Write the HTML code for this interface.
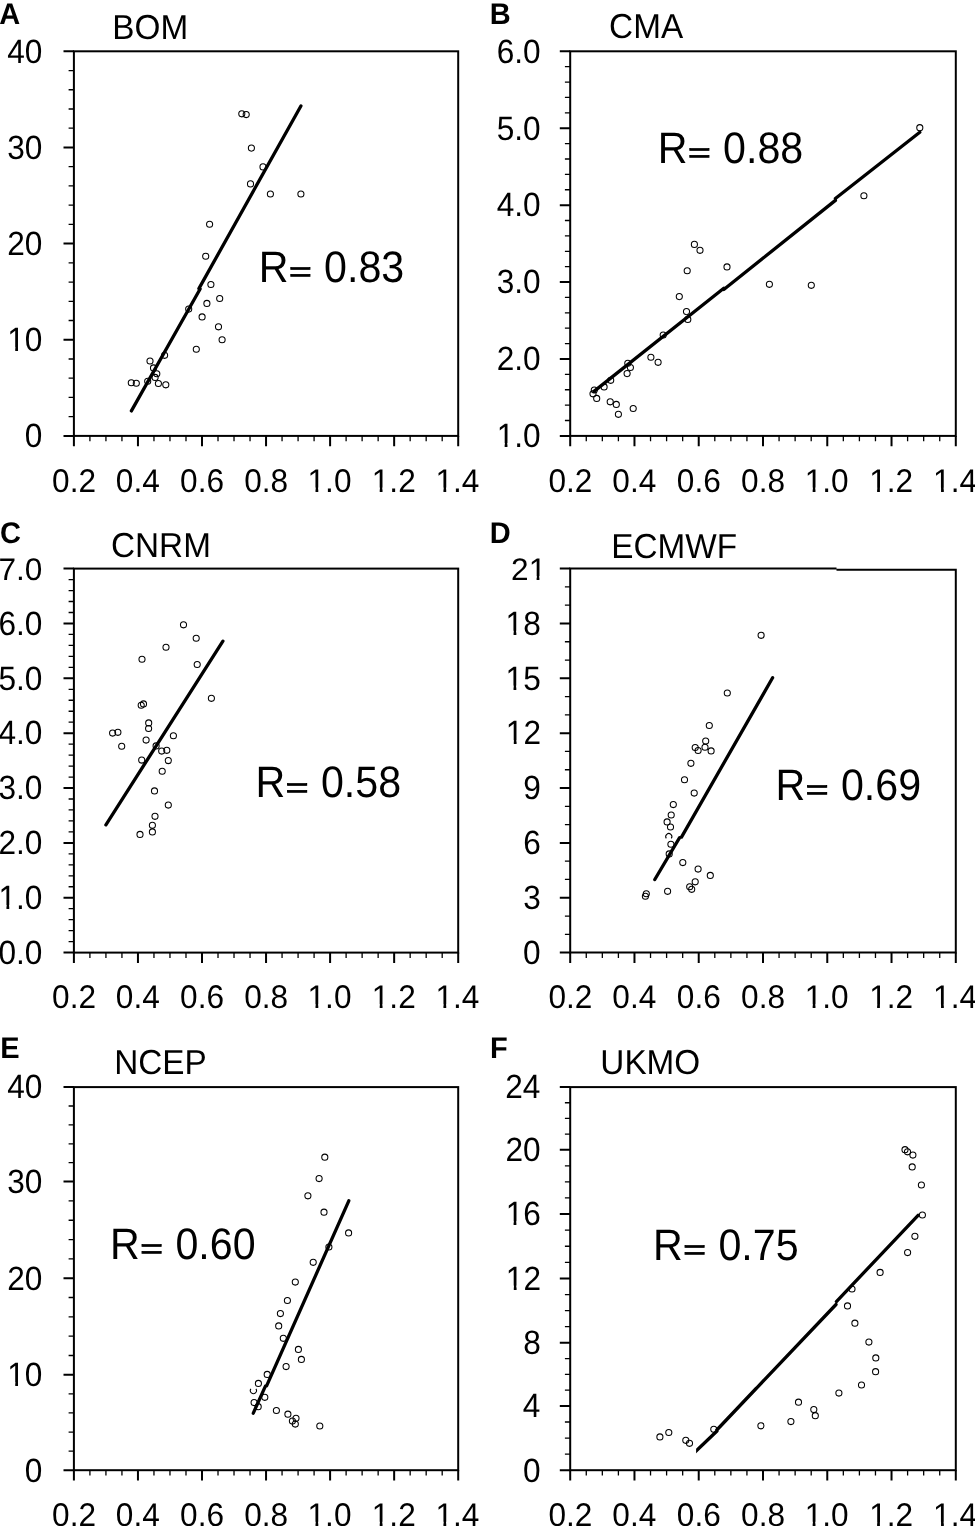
<!DOCTYPE html>
<html><head><meta charset="utf-8"><title>Scatter plots</title><style>
html,body{margin:0;padding:0;background:#fff;}
body{width:975px;height:1526px;overflow:hidden;}
svg{display:block;}
text{font-family:"Liberation Sans", Arial, Helvetica, sans-serif;fill:#000;font-kerning:none;text-rendering:geometricPrecision;}
.t{font-size:31.6px;}
.r{font-size:41.2px;}
.ti{font-size:33.3px;}
.l{font-size:29.0px;font-weight:bold;}
.eq{stroke:#000;stroke-width:1.3px;}
</style></head><body>
<svg width="975" height="1526" viewBox="0 0 975 1526">
<rect width="975" height="1526" fill="#fff"/>
<path d="M73.9 435.9v10.4M137.95 435.9v10.4M202 435.9v10.4M266.05 435.9v10.4M330.1 435.9v10.4M394.15 435.9v10.4M458.2 435.9v10.4M73.9 435.9h-10.4M73.9 339.75h-10.4M73.9 243.6h-10.4M73.9 147.45h-10.4M73.9 51.3h-10.4" stroke="#000" stroke-width="2.0" fill="none"/>
<path d="M89.91 435.9v5.3M105.93 435.9v5.3M121.94 435.9v5.3M153.96 435.9v5.3M169.97 435.9v5.3M185.99 435.9v5.3M218.01 435.9v5.3M234.02 435.9v5.3M250.04 435.9v5.3M282.06 435.9v5.3M298.08 435.9v5.3M314.09 435.9v5.3M346.11 435.9v5.3M362.12 435.9v5.3M378.14 435.9v5.3M410.16 435.9v5.3M426.17 435.9v5.3M442.19 435.9v5.3M73.9 416.67h-5.3M73.9 397.44h-5.3M73.9 378.21h-5.3M73.9 358.98h-5.3M73.9 320.52h-5.3M73.9 301.29h-5.3M73.9 282.06h-5.3M73.9 262.83h-5.3M73.9 224.37h-5.3M73.9 205.14h-5.3M73.9 185.91h-5.3M73.9 166.68h-5.3M73.9 128.22h-5.3M73.9 108.99h-5.3M73.9 89.76h-5.3M73.9 70.53h-5.3" stroke="#000" stroke-width="1.3" fill="none"/>
<rect x="73.9" y="51.3" width="384.3" height="384.6" stroke="#000" stroke-width="2.0" fill="none"/>
<text transform="translate(52.11 491.6) scale(1 1.04)" class="t">0.2</text>
<text transform="translate(115.83 491.6) scale(1 1.04)" class="t">0.4</text>
<text transform="translate(180.11 491.6) scale(1 1.04)" class="t">0.6</text>
<text transform="translate(244.16 491.6) scale(1 1.04)" class="t">0.8</text>
<text transform="translate(307.55 491.6) scale(1 1.04)" class="t">1.0</text>
<text transform="translate(371.78 491.6) scale(1 1.04)" class="t">1.2</text>
<text transform="translate(435.5 491.6) scale(1 1.04)" class="t">1.4</text>
<text transform="translate(24.86 447.2) scale(1 1.065)" class="t">0</text>
<text transform="translate(7.29 351.05) scale(1 1.065)" class="t">10</text>
<text transform="translate(7.29 254.9) scale(1 1.065)" class="t">20</text>
<text transform="translate(7.29 158.75) scale(1 1.065)" class="t">30</text>
<text transform="translate(7.29 62.6) scale(1 1.065)" class="t">40</text>
<path d="M300.9 106.0L198.9 288.6M200.1 289.0L131.4 410.9" stroke="#000" stroke-width="3.3" stroke-linecap="round" stroke-linejoin="round" fill="none"/>
<g fill="none" stroke="#000" stroke-width="1.05"><circle cx="241.8" cy="113.8" r="3.05"/><circle cx="246.2" cy="114.6" r="3.05"/><circle cx="251.4" cy="148.1" r="3.05"/><circle cx="263.0" cy="166.9" r="3.05"/><circle cx="250.5" cy="183.9" r="3.05"/><circle cx="270.4" cy="194.0" r="3.05"/><circle cx="300.9" cy="194.0" r="3.05"/><circle cx="209.6" cy="224.2" r="3.05"/><circle cx="205.7" cy="256.2" r="3.05"/><circle cx="210.9" cy="284.5" r="3.05"/><circle cx="219.7" cy="298.5" r="3.05"/><circle cx="206.9" cy="303.4" r="3.05"/><circle cx="188.7" cy="309.1" r="3.05"/><circle cx="202.1" cy="316.9" r="3.05"/><circle cx="218.5" cy="326.8" r="3.05"/><circle cx="222.1" cy="339.7" r="3.05"/><circle cx="196.3" cy="349.2" r="3.05"/><circle cx="164.6" cy="355.3" r="3.05"/><circle cx="150.0" cy="361.0" r="3.05"/><circle cx="153.5" cy="367.9" r="3.05"/><circle cx="156.8" cy="373.7" r="3.05"/><circle cx="155.1" cy="377.4" r="3.05"/><circle cx="147.7" cy="381.2" r="3.05"/><circle cx="131.3" cy="382.7" r="3.05"/><circle cx="136.3" cy="383.2" r="3.05"/><circle cx="158.4" cy="383.5" r="3.05"/><circle cx="165.8" cy="384.8" r="3.05"/></g>
<text transform="translate(258.82 281.8) scale(1 1.07)" class="r">R</text>
<text transform="translate(288.95 280.92) scale(0.944 0.673)" class="r eq">=</text>
<text transform="translate(324.08 281.8) scale(1 1.07)" class="r">0.83</text>
<text transform="translate(112.37 38.6) scale(1 1.04)" class="ti">BOM</text>
<text transform="translate(-0.72 23.8) scale(1 1.03)" class="l">A</text>
<path d="M570.2 435.9v10.4M634.47 435.9v10.4M698.73 435.9v10.4M763 435.9v10.4M827.27 435.9v10.4M891.53 435.9v10.4M955.8 435.9v10.4M570.2 435.9h-10.4M570.2 358.98h-10.4M570.2 282.06h-10.4M570.2 205.14h-10.4M570.2 128.22h-10.4M570.2 51.3h-10.4" stroke="#000" stroke-width="2.0" fill="none"/>
<path d="M586.27 435.9v5.3M602.33 435.9v5.3M618.4 435.9v5.3M650.53 435.9v5.3M666.6 435.9v5.3M682.67 435.9v5.3M714.8 435.9v5.3M730.87 435.9v5.3M746.93 435.9v5.3M779.07 435.9v5.3M795.13 435.9v5.3M811.2 435.9v5.3M843.33 435.9v5.3M859.4 435.9v5.3M875.47 435.9v5.3M907.6 435.9v5.3M923.67 435.9v5.3M939.73 435.9v5.3M570.2 420.52h-5.3M570.2 405.13h-5.3M570.2 389.75h-5.3M570.2 374.36h-5.3M570.2 343.6h-5.3M570.2 328.21h-5.3M570.2 312.83h-5.3M570.2 297.44h-5.3M570.2 266.68h-5.3M570.2 251.29h-5.3M570.2 235.91h-5.3M570.2 220.52h-5.3M570.2 189.76h-5.3M570.2 174.37h-5.3M570.2 158.99h-5.3M570.2 143.6h-5.3M570.2 112.84h-5.3M570.2 97.45h-5.3M570.2 82.07h-5.3M570.2 66.68h-5.3" stroke="#000" stroke-width="1.3" fill="none"/>
<rect x="570.2" y="51.3" width="385.6" height="384.6" stroke="#000" stroke-width="2.0" fill="none"/>
<text transform="translate(548.41 491.6) scale(1 1.04)" class="t">0.2</text>
<text transform="translate(612.35 491.6) scale(1 1.04)" class="t">0.4</text>
<text transform="translate(676.85 491.6) scale(1 1.04)" class="t">0.6</text>
<text transform="translate(741.11 491.6) scale(1 1.04)" class="t">0.8</text>
<text transform="translate(804.72 491.6) scale(1 1.04)" class="t">1.0</text>
<text transform="translate(869.16 491.6) scale(1 1.04)" class="t">1.2</text>
<text transform="translate(933.1 491.6) scale(1 1.04)" class="t">1.4</text>
<text transform="translate(496.71 447.2) scale(1 1.065)" class="t">1.0</text>
<text transform="translate(496.71 370.28) scale(1 1.065)" class="t">2.0</text>
<text transform="translate(496.71 293.36) scale(1 1.065)" class="t">3.0</text>
<text transform="translate(496.71 216.44) scale(1 1.065)" class="t">4.0</text>
<text transform="translate(496.71 139.52) scale(1 1.065)" class="t">5.0</text>
<text transform="translate(496.71 62.6) scale(1 1.065)" class="t">6.0</text>
<path d="M594.0 391.4L723.8 288.3M723.8 289.5L835.4 200.4M835.4 198.5L919.8 132.2" stroke="#000" stroke-width="3.3" stroke-linecap="round" stroke-linejoin="round" fill="none"/>
<g fill="none" stroke="#000" stroke-width="1.05"><circle cx="919.8" cy="127.7" r="3.05"/><circle cx="863.9" cy="195.7" r="3.05"/><circle cx="694.4" cy="244.4" r="3.05"/><circle cx="700.0" cy="250.3" r="3.05"/><circle cx="727.0" cy="266.9" r="3.05"/><circle cx="687.2" cy="270.7" r="3.05"/><circle cx="769.4" cy="284.3" r="3.05"/><circle cx="811.3" cy="285.3" r="3.05"/><circle cx="679.3" cy="296.6" r="3.05"/><circle cx="686.5" cy="311.6" r="3.05"/><circle cx="687.8" cy="319.4" r="3.05"/><circle cx="663.2" cy="335.0" r="3.05"/><circle cx="650.9" cy="357.2" r="3.05"/><circle cx="658.1" cy="362.3" r="3.05"/><circle cx="627.8" cy="363.2" r="3.05"/><circle cx="630.4" cy="367.5" r="3.05"/><circle cx="627.1" cy="373.6" r="3.05"/><circle cx="610.7" cy="380.3" r="3.05"/><circle cx="604.1" cy="386.9" r="3.05"/><circle cx="594.3" cy="390.0" r="3.05"/><circle cx="593.0" cy="393.8" r="3.05"/><circle cx="596.7" cy="398.4" r="3.05"/><circle cx="610.2" cy="401.8" r="3.05"/><circle cx="616.3" cy="404.4" r="3.05"/><circle cx="633.2" cy="408.5" r="3.05"/><circle cx="618.4" cy="414.3" r="3.05"/></g>
<text transform="translate(657.82 163) scale(1 1.07)" class="r">R</text>
<text transform="translate(687.95 162.12) scale(0.944 0.673)" class="r eq">=</text>
<text transform="translate(723.08 163) scale(1 1.07)" class="r">0.88</text>
<text transform="translate(609.11 38.4) scale(1 1.04)" class="ti">CMA</text>
<text transform="translate(489.86 24) scale(1 1.03)" class="l">B</text>
<path d="M73.9 952.6v10.4M137.95 952.6v10.4M202 952.6v10.4M266.05 952.6v10.4M330.1 952.6v10.4M394.15 952.6v10.4M458.2 952.6v10.4M73.9 952.6h-10.4M73.9 897.74h-10.4M73.9 842.89h-10.4M73.9 788.03h-10.4M73.9 733.17h-10.4M73.9 678.31h-10.4M73.9 623.46h-10.4M73.9 568.6h-10.4" stroke="#000" stroke-width="2.0" fill="none"/>
<path d="M89.91 952.6v5.3M105.93 952.6v5.3M121.94 952.6v5.3M153.96 952.6v5.3M169.97 952.6v5.3M185.99 952.6v5.3M218.01 952.6v5.3M234.02 952.6v5.3M250.04 952.6v5.3M282.06 952.6v5.3M298.08 952.6v5.3M314.09 952.6v5.3M346.11 952.6v5.3M362.12 952.6v5.3M378.14 952.6v5.3M410.16 952.6v5.3M426.17 952.6v5.3M442.19 952.6v5.3M73.9 941.63h-5.3M73.9 930.66h-5.3M73.9 919.69h-5.3M73.9 908.71h-5.3M73.9 886.77h-5.3M73.9 875.8h-5.3M73.9 864.83h-5.3M73.9 853.86h-5.3M73.9 831.91h-5.3M73.9 820.94h-5.3M73.9 809.97h-5.3M73.9 799h-5.3M73.9 777.06h-5.3M73.9 766.09h-5.3M73.9 755.11h-5.3M73.9 744.14h-5.3M73.9 722.2h-5.3M73.9 711.23h-5.3M73.9 700.26h-5.3M73.9 689.29h-5.3M73.9 667.34h-5.3M73.9 656.37h-5.3M73.9 645.4h-5.3M73.9 634.43h-5.3M73.9 612.49h-5.3M73.9 601.51h-5.3M73.9 590.54h-5.3M73.9 579.57h-5.3" stroke="#000" stroke-width="1.3" fill="none"/>
<rect x="73.9" y="568.6" width="384.3" height="384" stroke="#000" stroke-width="2.0" fill="none"/>
<text transform="translate(52.11 1008.3) scale(1 1.04)" class="t">0.2</text>
<text transform="translate(115.83 1008.3) scale(1 1.04)" class="t">0.4</text>
<text transform="translate(180.11 1008.3) scale(1 1.04)" class="t">0.6</text>
<text transform="translate(244.16 1008.3) scale(1 1.04)" class="t">0.8</text>
<text transform="translate(307.55 1008.3) scale(1 1.04)" class="t">1.0</text>
<text transform="translate(371.78 1008.3) scale(1 1.04)" class="t">1.2</text>
<text transform="translate(435.5 1008.3) scale(1 1.04)" class="t">1.4</text>
<text transform="translate(-1.49 963.9) scale(1 1.065)" class="t">0.0</text>
<text transform="translate(-1.49 909.04) scale(1 1.065)" class="t">1.0</text>
<text transform="translate(-1.49 854.19) scale(1 1.065)" class="t">2.0</text>
<text transform="translate(-1.49 799.33) scale(1 1.065)" class="t">3.0</text>
<text transform="translate(-1.49 744.47) scale(1 1.065)" class="t">4.0</text>
<text transform="translate(-1.49 689.61) scale(1 1.065)" class="t">5.0</text>
<text transform="translate(-1.49 634.76) scale(1 1.065)" class="t">6.0</text>
<text transform="translate(-1.49 579.9) scale(1 0.985)" class="t">7.0</text>
<path d="M105.9 824.8L222.9 641.2" stroke="#000" stroke-width="3.3" stroke-linecap="round" stroke-linejoin="round" fill="none"/>
<g fill="none" stroke="#000" stroke-width="1.05"><circle cx="183.5" cy="624.8" r="3.05"/><circle cx="196.2" cy="638.2" r="3.05"/><circle cx="166.0" cy="647.2" r="3.05"/><circle cx="142.0" cy="659.2" r="3.05"/><circle cx="197.2" cy="664.5" r="3.05"/><circle cx="211.4" cy="698.3" r="3.05"/><circle cx="141.2" cy="705.2" r="3.05"/><circle cx="143.5" cy="703.9" r="3.05"/><circle cx="148.7" cy="722.9" r="3.05"/><circle cx="148.6" cy="728.5" r="3.05"/><circle cx="112.6" cy="733.1" r="3.05"/><circle cx="117.9" cy="732.3" r="3.05"/><circle cx="173.4" cy="735.7" r="3.05"/><circle cx="146.1" cy="740.1" r="3.05"/><circle cx="121.7" cy="746.2" r="3.05"/><circle cx="156.1" cy="745.9" r="3.05"/><circle cx="161.7" cy="751.1" r="3.05"/><circle cx="166.8" cy="750.3" r="3.05"/><circle cx="141.7" cy="760.1" r="3.05"/><circle cx="168.3" cy="760.6" r="3.05"/><circle cx="162.2" cy="771.2" r="3.05"/><circle cx="154.5" cy="790.9" r="3.05"/><circle cx="168.3" cy="805.1" r="3.05"/><circle cx="155.0" cy="816.3" r="3.05"/><circle cx="152.4" cy="825.3" r="3.05"/><circle cx="152.4" cy="831.9" r="3.05"/><circle cx="140.0" cy="834.4" r="3.05"/></g>
<text transform="translate(255.62 797.4) scale(1 1.07)" class="r">R</text>
<text transform="translate(285.75 796.52) scale(0.944 0.673)" class="r eq">=</text>
<text transform="translate(320.88 797.4) scale(1 1.07)" class="r">0.58</text>
<text transform="translate(111.01 557.3) scale(1 1.04)" class="ti">CNRM</text>
<text transform="translate(0.01 543) scale(1 1.03)" class="l">C</text>
<path d="M570.2 952.6v10.4M634.47 952.6v10.4M698.73 952.6v10.4M763 952.6v10.4M827.27 952.6v10.4M891.53 952.6v10.4M955.8 952.6v10.4M570.2 952.6h-10.4M570.2 897.74h-10.4M570.2 842.89h-10.4M570.2 788.03h-10.4M570.2 733.17h-10.4M570.2 678.31h-10.4M570.2 623.46h-10.4M570.2 568.6h-10.4" stroke="#000" stroke-width="2.0" fill="none"/>
<path d="M586.27 952.6v5.3M602.33 952.6v5.3M618.4 952.6v5.3M650.53 952.6v5.3M666.6 952.6v5.3M682.67 952.6v5.3M714.8 952.6v5.3M730.87 952.6v5.3M746.93 952.6v5.3M779.07 952.6v5.3M795.13 952.6v5.3M811.2 952.6v5.3M843.33 952.6v5.3M859.4 952.6v5.3M875.47 952.6v5.3M907.6 952.6v5.3M923.67 952.6v5.3M939.73 952.6v5.3M570.2 934.31h-5.3M570.2 916.03h-5.3M570.2 879.46h-5.3M570.2 861.17h-5.3M570.2 824.6h-5.3M570.2 806.31h-5.3M570.2 769.74h-5.3M570.2 751.46h-5.3M570.2 714.89h-5.3M570.2 696.6h-5.3M570.2 660.03h-5.3M570.2 641.74h-5.3M570.2 605.17h-5.3M570.2 586.89h-5.3" stroke="#000" stroke-width="1.3" fill="none"/>
<path d="M836.5 568.6H570.2V952.6H955.8V569.7H836.5" stroke="#000" stroke-width="2.0" fill="none"/>
<text transform="translate(548.41 1008.3) scale(1 1.04)" class="t">0.2</text>
<text transform="translate(612.35 1008.3) scale(1 1.04)" class="t">0.4</text>
<text transform="translate(676.85 1008.3) scale(1 1.04)" class="t">0.6</text>
<text transform="translate(741.11 1008.3) scale(1 1.04)" class="t">0.8</text>
<text transform="translate(804.72 1008.3) scale(1 1.04)" class="t">1.0</text>
<text transform="translate(869.16 1008.3) scale(1 1.04)" class="t">1.2</text>
<text transform="translate(933.1 1008.3) scale(1 1.04)" class="t">1.4</text>
<text transform="translate(523.06 963.9) scale(1 1.065)" class="t">0</text>
<text transform="translate(523.21 909.04) scale(1 1.065)" class="t">3</text>
<text transform="translate(523.21 854.19) scale(1 1.065)" class="t">6</text>
<text transform="translate(523.32 799.33) scale(1 1.065)" class="t">9</text>
<text transform="translate(505.84 744.47) scale(1 1.065)" class="t">12</text>
<text transform="translate(505.58 689.61) scale(1 1.065)" class="t">15</text>
<text transform="translate(505.62 634.76) scale(1 1.065)" class="t">18</text>
<text transform="translate(511.09 579.9) scale(1 0.985)" class="t">21</text>
<path d="M654.8 879.5L679.6 837.7M681.5 837.1L772.6 677.8" stroke="#000" stroke-width="3.3" stroke-linecap="round" stroke-linejoin="round" fill="none"/>
<g fill="none" stroke="#000" stroke-width="1.05"><circle cx="761.1" cy="635.3" r="3.05"/><circle cx="727.3" cy="693.0" r="3.05"/><circle cx="709.3" cy="725.5" r="3.05"/><circle cx="705.7" cy="741.1" r="3.05"/><circle cx="695.2" cy="747.5" r="3.05"/><circle cx="698.1" cy="750.5" r="3.05"/><circle cx="705.0" cy="747.2" r="3.05"/><circle cx="711.1" cy="750.9" r="3.05"/><circle cx="690.9" cy="763.3" r="3.05"/><circle cx="684.5" cy="779.7" r="3.05"/><circle cx="694.2" cy="793.1" r="3.05"/><circle cx="673.3" cy="804.6" r="3.05"/><circle cx="671.2" cy="815.0" r="3.05"/><circle cx="667.1" cy="821.9" r="3.05"/><circle cx="670.5" cy="827.0" r="3.05"/><circle cx="670.9" cy="844.2" r="3.05"/><circle cx="669.2" cy="853.9" r="3.05"/><circle cx="682.8" cy="862.6" r="3.05"/><circle cx="698.1" cy="869.1" r="3.05"/><circle cx="710.3" cy="875.4" r="3.05"/><circle cx="695.2" cy="881.8" r="3.05"/><circle cx="689.7" cy="886.7" r="3.05"/><circle cx="691.7" cy="889.3" r="3.05"/><circle cx="667.6" cy="891.3" r="3.05"/><circle cx="646.3" cy="893.7" r="3.05"/><circle cx="645.4" cy="896.2" r="3.05"/><path d="M666.3 838.35A3.05 3.05 0 1 1 671.3 838.35"/></g>
<text transform="translate(775.62 800.2) scale(1 1.07)" class="r">R</text>
<text transform="translate(805.75 799.32) scale(0.944 0.673)" class="r eq">=</text>
<text transform="translate(840.88 800.2) scale(1 1.07)" class="r">0.69</text>
<text transform="translate(611.27 557.8) scale(1 1.04)" class="ti">ECMWF</text>
<text transform="translate(489.86 542.8) scale(1 1.03)" class="l">D</text>
<path d="M73.9 1470.2v10.4M137.95 1470.2v10.4M202 1470.2v10.4M266.05 1470.2v10.4M330.1 1470.2v10.4M394.15 1470.2v10.4M458.2 1470.2v10.4M73.9 1470.2h-10.4M73.9 1374.8h-10.4M73.9 1278.2h-10.4M73.9 1181.6h-10.4M73.9 1087.1h-10.4" stroke="#000" stroke-width="2.0" fill="none"/>
<path d="M89.91 1470.2v5.3M105.93 1470.2v5.3M121.94 1470.2v5.3M153.96 1470.2v5.3M169.97 1470.2v5.3M185.99 1470.2v5.3M218.01 1470.2v5.3M234.02 1470.2v5.3M250.04 1470.2v5.3M282.06 1470.2v5.3M298.08 1470.2v5.3M314.09 1470.2v5.3M346.11 1470.2v5.3M362.12 1470.2v5.3M378.14 1470.2v5.3M410.16 1470.2v5.3M426.17 1470.2v5.3M442.19 1470.2v5.3M73.9 1451.12h-5.3M73.9 1432.04h-5.3M73.9 1412.96h-5.3M73.9 1393.88h-5.3M73.9 1355.48h-5.3M73.9 1336.16h-5.3M73.9 1316.84h-5.3M73.9 1297.52h-5.3M73.9 1258.88h-5.3M73.9 1239.56h-5.3M73.9 1220.24h-5.3M73.9 1200.92h-5.3M73.9 1162.7h-5.3M73.9 1143.8h-5.3M73.9 1124.9h-5.3M73.9 1106h-5.3" stroke="#000" stroke-width="1.3" fill="none"/>
<rect x="73.9" y="1087.1" width="384.3" height="383.1" stroke="#000" stroke-width="2.0" fill="none"/>
<text transform="translate(52.11 1525.9) scale(1 1.04)" class="t">0.2</text>
<text transform="translate(115.83 1525.9) scale(1 1.04)" class="t">0.4</text>
<text transform="translate(180.11 1525.9) scale(1 1.04)" class="t">0.6</text>
<text transform="translate(244.16 1525.9) scale(1 1.04)" class="t">0.8</text>
<text transform="translate(307.55 1525.9) scale(1 1.04)" class="t">1.0</text>
<text transform="translate(371.78 1525.9) scale(1 1.04)" class="t">1.2</text>
<text transform="translate(435.5 1525.9) scale(1 1.04)" class="t">1.4</text>
<text transform="translate(24.86 1481.5) scale(1 1.065)" class="t">0</text>
<text transform="translate(7.29 1386.1) scale(1 1.065)" class="t">10</text>
<text transform="translate(7.29 1289.5) scale(1 1.065)" class="t">20</text>
<text transform="translate(7.29 1192.9) scale(1 1.065)" class="t">30</text>
<text transform="translate(7.29 1098.4) scale(1 1.065)" class="t">40</text>
<path d="M348.8 1200.8L266.6 1385.9M265.3 1386.3L253.3 1413.2" stroke="#000" stroke-width="3.3" stroke-linecap="round" stroke-linejoin="round" fill="none"/>
<g fill="none" stroke="#000" stroke-width="1.05"><circle cx="324.8" cy="1157.2" r="3.05"/><circle cx="319.1" cy="1178.6" r="3.05"/><circle cx="307.9" cy="1195.8" r="3.05"/><circle cx="324.0" cy="1212.2" r="3.05"/><circle cx="348.6" cy="1232.9" r="3.05"/><circle cx="328.9" cy="1247.0" r="3.05"/><circle cx="313.2" cy="1262.3" r="3.05"/><circle cx="295.3" cy="1282.1" r="3.05"/><circle cx="287.4" cy="1300.5" r="3.05"/><circle cx="280.4" cy="1313.6" r="3.05"/><circle cx="278.7" cy="1325.9" r="3.05"/><circle cx="283.3" cy="1338.3" r="3.05"/><circle cx="298.4" cy="1349.4" r="3.05"/><circle cx="301.4" cy="1359.4" r="3.05"/><circle cx="286.1" cy="1366.6" r="3.05"/><circle cx="267.2" cy="1374.4" r="3.05"/><circle cx="258.4" cy="1383.4" r="3.05"/><circle cx="264.8" cy="1397.3" r="3.05"/><circle cx="254.1" cy="1402.6" r="3.05"/><circle cx="258.2" cy="1406.7" r="3.05"/><circle cx="276.4" cy="1410.5" r="3.05"/><circle cx="287.9" cy="1414.2" r="3.05"/><circle cx="296.0" cy="1418.3" r="3.05"/><circle cx="292.4" cy="1421.1" r="3.05"/><circle cx="295.3" cy="1424.1" r="3.05"/><circle cx="319.8" cy="1426.0" r="3.05"/><path d="M250.9 1388.85A3.05 3.05 0 1 0 255.9 1388.85"/></g>
<text transform="translate(110.12 1258.6) scale(1 1.07)" class="r">R</text>
<text transform="translate(140.25 1257.72) scale(0.944 0.673)" class="r eq">=</text>
<text transform="translate(175.38 1258.6) scale(1 1.07)" class="r">0.60</text>
<text transform="translate(114.27 1073.8) scale(1 1.04)" class="ti">NCEP</text>
<text transform="translate(0.36 1058.3) scale(1 1.03)" class="l">E</text>
<path d="M570.2 1470.2v10.4M634.47 1470.2v10.4M698.73 1470.2v10.4M763 1470.2v10.4M827.27 1470.2v10.4M891.53 1470.2v10.4M955.8 1470.2v10.4M570.2 1470.2h-10.4M570.2 1405.9h-10.4M570.2 1342.8h-10.4M570.2 1278.43h-10.4M570.2 1214.07h-10.4M570.2 1149.7h-10.4M570.2 1087.1h-10.4" stroke="#000" stroke-width="2.0" fill="none"/>
<path d="M586.27 1470.2v5.3M602.33 1470.2v5.3M618.4 1470.2v5.3M650.53 1470.2v5.3M666.6 1470.2v5.3M682.67 1470.2v5.3M714.8 1470.2v5.3M730.87 1470.2v5.3M746.93 1470.2v5.3M779.07 1470.2v5.3M795.13 1470.2v5.3M811.2 1470.2v5.3M843.33 1470.2v5.3M859.4 1470.2v5.3M875.47 1470.2v5.3M907.6 1470.2v5.3M923.67 1470.2v5.3M939.73 1470.2v5.3M570.2 1454.12h-5.3M570.2 1438.05h-5.3M570.2 1421.98h-5.3M570.2 1390.12h-5.3M570.2 1374.35h-5.3M570.2 1358.58h-5.3M570.2 1326.71h-5.3M570.2 1310.62h-5.3M570.2 1294.53h-5.3M570.2 1262.34h-5.3M570.2 1246.25h-5.3M570.2 1230.16h-5.3M570.2 1197.97h-5.3M570.2 1181.88h-5.3M570.2 1165.79h-5.3M570.2 1134.05h-5.3M570.2 1118.4h-5.3M570.2 1102.75h-5.3" stroke="#000" stroke-width="1.3" fill="none"/>
<rect x="570.2" y="1087.1" width="385.6" height="383.1" stroke="#000" stroke-width="2.0" fill="none"/>
<text transform="translate(548.41 1525.9) scale(1 1.04)" class="t">0.2</text>
<text transform="translate(612.35 1525.9) scale(1 1.04)" class="t">0.4</text>
<text transform="translate(676.85 1525.9) scale(1 1.04)" class="t">0.6</text>
<text transform="translate(741.11 1525.9) scale(1 1.04)" class="t">0.8</text>
<text transform="translate(804.72 1525.9) scale(1 1.04)" class="t">1.0</text>
<text transform="translate(869.16 1525.9) scale(1 1.04)" class="t">1.2</text>
<text transform="translate(933.1 1525.9) scale(1 1.04)" class="t">1.4</text>
<text transform="translate(523.06 1481.5) scale(1 1.065)" class="t">0</text>
<text transform="translate(522.75 1417.2) scale(1 1.065)" class="t">4</text>
<text transform="translate(523.2 1354.1) scale(1 1.065)" class="t">8</text>
<text transform="translate(505.84 1289.73) scale(1 1.065)" class="t">12</text>
<text transform="translate(505.64 1225.37) scale(1 1.065)" class="t">16</text>
<text transform="translate(505.49 1161) scale(1 1.065)" class="t">20</text>
<text transform="translate(505.18 1098.4) scale(1 1.065)" class="t">24</text>
<clipPath id="clipF"><rect x="696.1" y="1087.1" width="259.7" height="383.1"/></clipPath>
<path d="M695.0 1452.1L717.0 1431.0M716.8 1430.0L756.6 1388.0M757.3 1387.3L836.0 1304.5M836.4 1301.6L918.1 1215.3" stroke="#000" stroke-width="3.3" stroke-linecap="round" stroke-linejoin="round" fill="none" clip-path="url(#clipF)"/>
<g fill="none" stroke="#000" stroke-width="1.05"><circle cx="905.0" cy="1149.7" r="3.05"/><circle cx="907.5" cy="1151.8" r="3.05"/><circle cx="912.9" cy="1155.1" r="3.05"/><circle cx="912.2" cy="1166.9" r="3.05"/><circle cx="921.4" cy="1185.0" r="3.05"/><circle cx="922.4" cy="1215.0" r="3.05"/><circle cx="914.9" cy="1236.3" r="3.05"/><circle cx="907.6" cy="1252.6" r="3.05"/><circle cx="880.1" cy="1272.4" r="3.05"/><circle cx="852.0" cy="1289.0" r="3.05"/><circle cx="847.5" cy="1305.9" r="3.05"/><circle cx="854.9" cy="1323.2" r="3.05"/><circle cx="868.9" cy="1342.1" r="3.05"/><circle cx="875.8" cy="1357.9" r="3.05"/><circle cx="875.6" cy="1371.7" r="3.05"/><circle cx="861.5" cy="1385.0" r="3.05"/><circle cx="838.9" cy="1393.1" r="3.05"/><circle cx="798.5" cy="1402.2" r="3.05"/><circle cx="813.8" cy="1409.6" r="3.05"/><circle cx="815.3" cy="1415.7" r="3.05"/><circle cx="790.9" cy="1421.6" r="3.05"/><circle cx="760.9" cy="1425.8" r="3.05"/><circle cx="713.8" cy="1429.3" r="3.05"/><circle cx="668.8" cy="1432.5" r="3.05"/><circle cx="659.9" cy="1436.9" r="3.05"/><circle cx="685.8" cy="1440.3" r="3.05"/><circle cx="689.5" cy="1443.3" r="3.05"/></g>
<text transform="translate(653.12 1259.7) scale(1 1.07)" class="r">R</text>
<text transform="translate(683.25 1258.82) scale(0.944 0.673)" class="r eq">=</text>
<text transform="translate(718.38 1259.7) scale(1 1.07)" class="r">0.75</text>
<text transform="translate(600.33 1074.1) scale(1 1.04)" class="ti">UKMO</text>
<text transform="translate(489.96 1058.3) scale(1 1.03)" class="l">F</text>
<path fill="#fff" d="M308.66 487.54h6.84v4.66h-6.84zM318.29 487.54h6.59v4.66h-6.59zM372.88 487.54h6.84v4.66h-6.84zM382.52 487.54h6.59v4.66h-6.59zM436.6 487.54h6.84v4.66h-6.84zM446.23 487.54h6.59v4.66h-6.59zM8.39 346.94h6.84v4.71h-6.84zM18.02 346.94h6.59v4.71h-6.59zM805.82 487.54h6.84v4.66h-6.84zM815.46 487.54h6.59v4.66h-6.59zM870.27 487.54h6.84v4.66h-6.84zM879.9 487.54h6.59v4.66h-6.59zM934.2 487.54h6.84v4.66h-6.84zM943.83 487.54h6.59v4.66h-6.59zM497.81 443.09h6.84v4.71h-6.84zM507.45 443.09h6.59v4.71h-6.59zM308.66 1004.24h6.84v4.66h-6.84zM318.29 1004.24h6.59v4.66h-6.59zM372.88 1004.24h6.84v4.66h-6.84zM382.52 1004.24h6.59v4.66h-6.59zM436.6 1004.24h6.84v4.66h-6.84zM446.23 1004.24h6.59v4.66h-6.59zM-0.39 904.93h6.84v4.71h-6.84zM9.25 904.93h6.59v4.71h-6.59zM805.82 1004.24h6.84v4.66h-6.84zM815.46 1004.24h6.59v4.66h-6.59zM870.27 1004.24h6.84v4.66h-6.84zM879.9 1004.24h6.59v4.66h-6.59zM934.2 1004.24h6.84v4.66h-6.84zM943.83 1004.24h6.59v4.66h-6.59zM506.95 740.36h6.84v4.71h-6.84zM516.58 740.36h6.59v4.71h-6.59zM506.69 685.5h6.84v4.71h-6.84zM516.32 685.5h6.59v4.71h-6.59zM506.73 630.64h6.84v4.71h-6.84zM516.36 630.64h6.59v4.71h-6.59zM529.77 575.97h6.84v4.53h-6.84zM539.4 575.97h6.59v4.53h-6.59zM308.66 1521.84h6.84v4.66h-6.84zM318.29 1521.84h6.59v4.66h-6.59zM372.88 1521.84h6.84v4.66h-6.84zM382.52 1521.84h6.59v4.66h-6.59zM436.6 1521.84h6.84v4.66h-6.84zM446.23 1521.84h6.59v4.66h-6.59zM8.39 1381.99h6.84v4.71h-6.84zM18.02 1381.99h6.59v4.71h-6.59zM805.82 1521.84h6.84v4.66h-6.84zM815.46 1521.84h6.59v4.66h-6.59zM870.27 1521.84h6.84v4.66h-6.84zM879.9 1521.84h6.59v4.66h-6.59zM934.2 1521.84h6.84v4.66h-6.84zM943.83 1521.84h6.59v4.66h-6.59zM506.95 1285.62h6.84v4.71h-6.84zM516.58 1285.62h6.59v4.71h-6.59zM506.75 1221.25h6.84v4.71h-6.84zM516.38 1221.25h6.59v4.71h-6.59z"/>
</svg>
</body></html>
